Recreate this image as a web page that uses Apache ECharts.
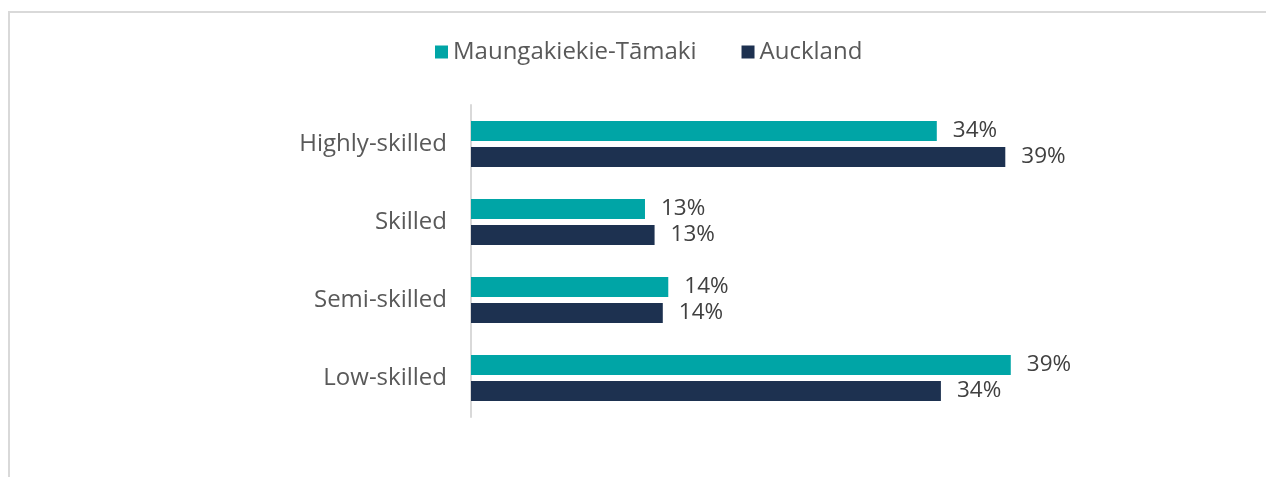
<!DOCTYPE html>
<html>
<head>
<meta charset="utf-8">
<script src="https://cdn.jsdelivr.net/npm/echarts@6/dist/echarts.min.js"></script>
<style>
  html, body { margin: 0; padding: 0; background: #fff; }
  #wrap { position: relative; width: 1266px; height: 477px; overflow: hidden; }
  #frame { position: absolute; left: 8px; top: 11px; width: 1300px; height: 500px; border-top: 2px solid #d9d9d9; border-left: 2px solid #d9d9d9; box-sizing: border-box; }
  #chart { position: absolute; left: 0; top: 0; width: 1266px; height: 477px; }
</style>
</head>
<body>
<div id="wrap">
  <div id="frame"></div>
  <div id="chart"></div>
</div>
<script>
const categories = ['Highly-skilled', 'Skilled', 'Semi-skilled', 'Low-skilled'];
const seriesNames = ['Maungakiekie-Tāmaki', 'Auckland'];
const localValues = [34.0, 12.7, 14.4, 39.4];
const aucklandValues = [39.0, 13.4, 14.0, 34.3];
const colors = ['#00A5A6', '#1D3150'];

const FONT = '"Open Sans", sans-serif';
const chart = echarts.init(document.getElementById('chart'), null, { renderer: 'canvas' });

const labelCfg = {
  show: true,
  position: 'right',
  distance: 16,
  color: '#404040',
  fontSize: 22.5,
  fontFamily: FONT,
  formatter: p => Math.round(p.value) + '%'
};

chart.setOption({
  animation: false,
  textStyle: { fontFamily: FONT },
  legend: {
    left: 435,
    top: 40,
    padding: 0,
    itemWidth: 13,
    itemHeight: 13,
    itemGap: 45,
    icon: 'rect',
    textStyle: { color: '#595959', fontSize: 24, fontFamily: FONT, padding: [0, 0, 0, 0] },
    data: seriesNames
  },
  grid: { left: 471, right: 110, top: 105, bottom: 60, containLabel: false },
  xAxis: {
    type: 'value',
    min: 0,
    max: 50,
    show: false,
    splitLine: { show: false }
  },
  yAxis: {
    type: 'category',
    data: categories,
    inverse: true,
    axisLine: { show: true, lineStyle: { color: '#d9d9d9', width: 2 } },
    axisTick: { show: false },
    axisLabel: { color: '#595959', fontSize: 24, fontFamily: FONT, margin: 24 }
  },
  series: [
    {
      name: seriesNames[0],
      type: 'bar',
      data: localValues,
      barWidth: 20,
      barGap: '30%',
      itemStyle: { color: colors[0] },
      label: labelCfg
    },
    {
      name: seriesNames[1],
      type: 'bar',
      data: aucklandValues,
      barWidth: 20,
      barGap: '30%',
      itemStyle: { color: colors[1] },
      label: labelCfg
    }
  ]
});
</script>
</body>
</html>
